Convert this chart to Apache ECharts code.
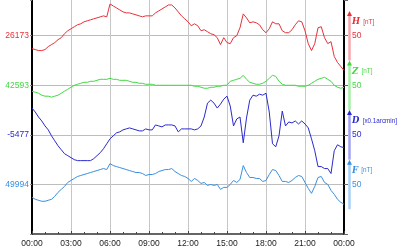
<!DOCTYPE html>
<html><head><meta charset="utf-8">
<script src="https://cdn.jsdelivr.net/npm/echarts@6/dist/echarts.min.js"></script>
<style>html,body{margin:0;padding:0;background:#fff}#c{width:400px;height:250px}</style>
</head><body><div id="c"></div>
<script>
// sampling grid: every 15 minutes, 00:00 .. 24:00 (hours)
const times = Array.from({length: 97}, (_, i) => i * 0.25);
const xTickLabels = ['00:00','03:00','06:00','09:00','12:00','15:00','18:00','21:00','00:00'];

const baseH = 26173, baseZ = 42593, baseD = -5477, baseF = 49994;
const baseLabels = ['26173', '42593', '-5477', '49994'];
const scaleLabels = ['50', '50', '50', '50'];
const compNames = ['H', 'Z', 'D', 'F'];
const compUnits = ['[nT]', '[nT]', '[x0.1arcmin]', '[nT]'];

const H = [26160,26159,26158,26158,26159,26162,26164,26166,26169,26171,26175,26178,26180,26182,26184,26185,26187,26188,26189,26190,26191,26192,26193,26192,
26205,26203,26201,26199,26197,26196,26196,26195,26194,26193,26192,26193,26193,26193,26196,26198,26200,26202,26204,26204,26201,26197,26193,26190,26187,
26183,26185,26183,26178,26179,26177,26175,26174,26171,26164,26171,26166,26165,26171,26173,26181,26195,26191,26186,26187,26186,26184,26179,26176,
26180,26187,26185,26185,26178,26176,26176,26179,26184,26188,26187,26178,26165,26158,26165,26181,26182,26171,26165,26167,26152,26146,26142,26138];

const Z = [42587,42586,42585,42583,42582,42582,42581,42582,42583,42585,42587,42589,42591,42593,42594,42595,42596,42596,42597,42597,42598,42599,42599,42599,
42600,42599,42599,42598,42598,42598,42597,42596,42596,42595,42595,42594,42594,42594,42593,42593,42593,42593,42593,42593,42593,42593,42593,42593,42593,
42593,42592,42592,42591,42590,42590,42591,42591,42592,42592,42593,42593,42597,42598,42599,42600,42603,42599,42596,42595,42594,42594,42595,42597,
42600,42603,42602,42597,42594,42593,42593,42593,42593,42592,42592,42592,42593,42595,42597,42599,42600,42601,42599,42597,42593,42591,42590,42591];

const D = [-5450,-5454,-5459,-5463,-5468,-5472,-5478,-5483,-5488,-5492,-5496,-5498,-5500,-5502,-5503,-5503,-5503,-5503,-5503,-5501,-5498,-5495,-5491,-5486,
-5481,-5478,-5475,-5474,-5472,-5471,-5470,-5471,-5472,-5473,-5473,-5471,-5472,-5472,-5467,-5468,-5469,-5467,-5467,-5467,-5468,-5474,-5471,-5471,-5471,
-5471,-5472,-5471,-5468,-5459,-5445,-5442,-5445,-5450,-5446,-5441,-5438,-5448,-5468,-5461,-5459,-5485,-5460,-5442,-5437,-5438,-5436,-5437,-5435,
-5454,-5486,-5489,-5478,-5453,-5468,-5464,-5465,-5463,-5466,-5463,-5466,-5470,-5481,-5493,-5509,-5509,-5511,-5511,-5516,-5493,-5487,-5489,-5490];

const F = [49981,49979,49978,49977,49977,49978,49979,49982,49986,49989,49992,49996,49998,50000,50002,50003,50004,50005,50006,50007,50008,50009,50010,50009,
50015,50013,50012,50011,50010,50009,50008,50007,50006,50006,50005,50003,50004,50004,50005,50007,50008,50009,50009,50010,50007,50005,50003,50002,50000,
49997,50000,49998,49995,49996,49993,49994,49993,49994,49989,49991,49991,49994,49998,49996,49999,50013,50006,50001,50001,50000,50000,49997,49998,
50004,50009,50008,50003,49997,49997,49996,49998,50001,50003,50002,49996,49990,49985,49992,50001,50002,49996,49994,49988,49984,49979,49976,49974];

const colors = ['#e8313a', '#44d844', '#2a2ad0', '#3a8fe0'];
const paleColors = ['#f6a9ac', '#a6efa6', '#a3a3f0', '#a9d0f5'];
const bases = [baseH, baseZ, baseD, baseF];
const gridPos = [200, 150, 100, 50];   // row position (units) of each baseline
const span = 236;                       // vertical units spanned by the plot
const series = [H, Z, D, F];

const chart = echarts.init(document.getElementById('c'), null, {renderer: 'canvas'});
const font = 'Liberation Sans, Arial, Helvetica, sans-serif';
const richCols = {};
colors.forEach((c, k) => { richCols['c' + k] = {color: c, fontSize: 8.5, fontFamily: font}; });

const yAxes = [{
  type: 'value', min: 0, max: span, interval: 50, position: 'left',
  axisLine: {show: true, lineStyle: {color: '#000', width: 2}},
  axisTick: {show: true, length: 2, lineStyle: {color: '#888'}},
  splitLine: {show: true, showMinLine: false, showMaxLine: false, lineStyle: {color: '#bdbdbd', width: 1}},
  axisLabel: {
    margin: 3, fontSize: 8.5, fontFamily: font,
    formatter: v => { const k = gridPos.indexOf(v); return k < 0 ? '' : '{c' + k + '|' + baseLabels[k] + '}'; },
    rich: richCols
  }
}, {
  type: 'value', min: 0, max: span, interval: 50, position: 'right',
  axisLine: {show: true, lineStyle: {color: '#000', width: 2}},
  axisTick: {show: true, length: 4, lineStyle: {color: '#666'}},
  splitLine: {show: false},
  axisLabel: {
    margin: 8, fontSize: 8.5, fontFamily: font,
    formatter: v => { const k = gridPos.indexOf(v); return k < 0 ? '' : '{c' + k + '|' + scaleLabels[k] + '}'; },
    rich: richCols
  }
}];
bases.forEach((b, k) => {
  yAxes.push({type: 'value', show: false, min: b - gridPos[k], max: b - gridPos[k] + span, splitLine: {show: false}});
});

chart.setOption({
  animation: false,
  backgroundColor: '#fff',
  grid: {left: 32, right: 56, top: 0, bottom: 16, containLabel: false},
  xAxis: {
    type: 'value', min: 0, max: 24, interval: 3,
    axisLine: {show: true, lineStyle: {color: '#333', width: 1.5}},
    axisTick: {show: true, inside: true, length: 3, lineStyle: {color: '#444'}},
    minorTick: {show: true, splitNumber: 3, length: 2, lineStyle: {color: '#444'}},
    splitLine: {show: true, lineStyle: {color: '#c6c6c6', width: 1}},
    axisLabel: {
      margin: 5, fontSize: 8.5, color: '#222', fontFamily: font,
      formatter: v => xTickLabels[Math.round(v / 3)]
    }
  },
  yAxis: yAxes,
  series: series.map((arr, k) => ({
    type: 'line', yAxisIndex: k + 2, showSymbol: false, symbol: 'none',
    data: arr.map((v, i) => [times[i], v]),
    lineStyle: {color: colors[k], width: 1},
    itemStyle: {color: colors[k]}
  }))
});

// scale arrows (50 units long, centred on each baseline) and component names
const g = [];
bases.forEach((b, k) => {
  const ax = k + 2;
  const right = chart.convertToPixel({xAxisIndex: 0}, 24);
  const x = right + 5.5;
  const yTop = chart.convertToPixel({yAxisIndex: ax}, b + 25);
  const yBot = chart.convertToPixel({yAxisIndex: ax}, b - 25);
  g.push({type: 'line', shape: {x1: x, y1: yBot, x2: x, y2: yTop + 4}, style: {stroke: paleColors[k], lineWidth: 2.5}, silent: true});
  g.push({type: 'polygon', shape: {points: [[x - 2.5, yTop + 5], [x + 2.5, yTop + 5], [x, yTop]]}, style: {fill: colors[k]}, silent: true});
  const yName = chart.convertToPixel({yAxisIndex: ax}, b + 14);
  g.push({type: 'text', x: x + 2.5, y: yName, silent: true, style: {
    text: '{n|' + compNames[k] + '} {u|' + compUnits[k] + '}',
    verticalAlign: 'middle',
    rich: {
      n: {fontFamily: 'DejaVu Serif, Liberation Serif, serif', fontStyle: 'italic', fontWeight: 'bold', fontSize: 8.5, fill: colors[k], color: colors[k]},
      u: {fontFamily: font, fontSize: 6.3, fill: colors[k], color: colors[k]}
    }
  }});
});
chart.setOption({graphic: g});
</script></body></html>
